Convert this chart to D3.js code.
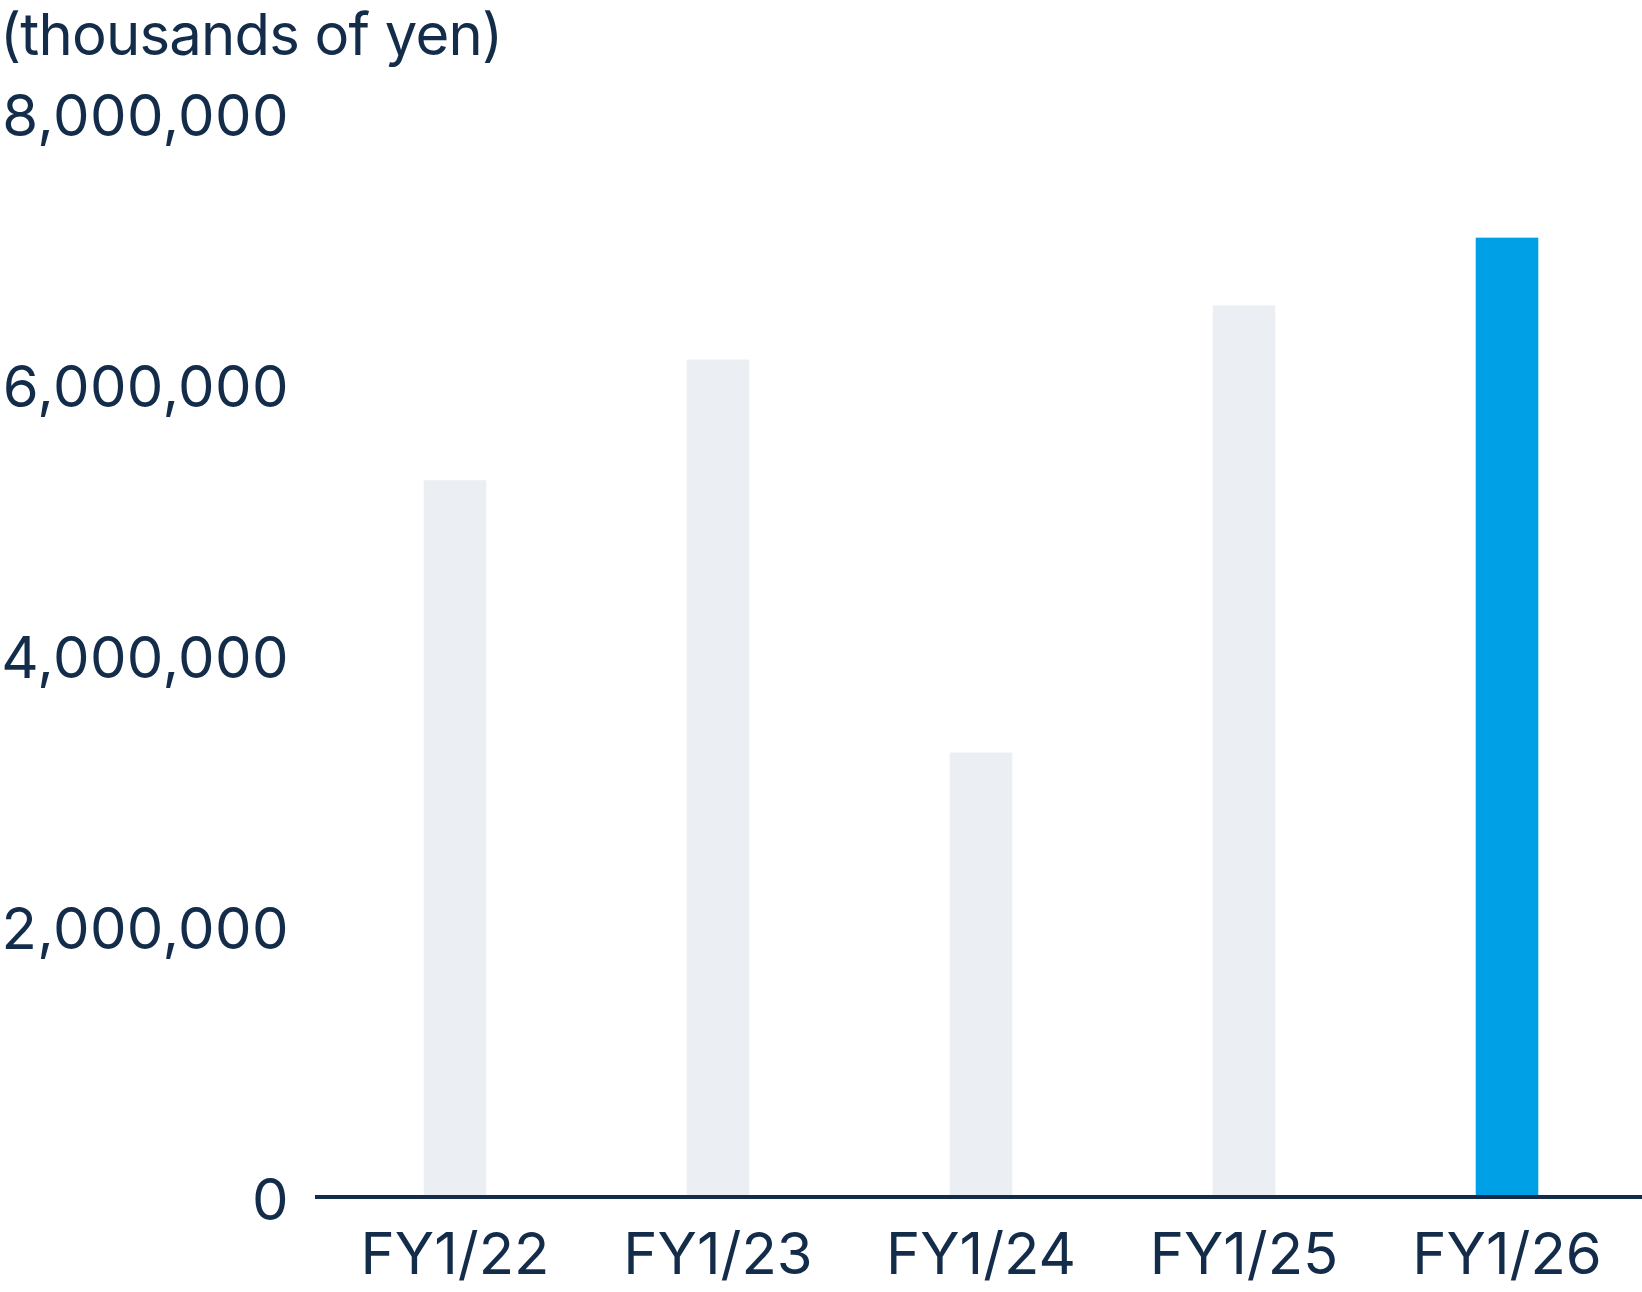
<!DOCTYPE html>
<html>
<head>
<meta charset="utf-8">
<script src="https://cdn.jsdelivr.net/npm/d3@7/dist/d3.min.js"></script>
<style>
  html, body { margin: 0; padding: 0; background: #ffffff; }
  svg { display: block; }
  text { font-family: Inter, "Noto Sans", sans-serif; fill: #132c4a; }
</style>
</head>
<body>
<svg id="chart" width="1642" height="1292"></svg>
<script>
const categories = ["FY1/22", "FY1/23", "FY1/24", "FY1/25", "FY1/26"];
const values = [5290000, 6180000, 3280000, 6580000, 7080000];
const highlight = [false, false, false, false, true];
const yTicks = [0, 2000000, 4000000, 6000000, 8000000];
const unitLabel = "(thousands of yen)";

const W = 1642, H = 1292;
const ink = "#132c4a";
const FS = 58;
const svg = d3.select("#chart");

const y = d3.scaleLinear().domain([0, 8000000]).range([1197, 113]);
const x = d3.scaleBand().domain(categories).range([323.5, 1638.5])
  .paddingInner(0.762).paddingOuter(0.381);

// bars
svg.append("g").selectAll("rect").data(categories).join("rect")
  .attr("x", d => x(d))
  .attr("width", x.bandwidth())
  .attr("y", (d, i) => y(values[i]))
  .attr("height", (d, i) => y(0) - y(values[i]))
  .attr("fill", (d, i) => highlight[i] ? "#00a0e6" : "#ebeef3");

// y axis labels
const yAxis = svg.append("g").attr("transform", "translate(315,0)")
  .call(d3.axisLeft(y).tickValues(yTicks).tickSize(0).tickPadding(26)
    .tickFormat(d3.format(",")));
yAxis.select(".domain").remove();
yAxis.selectAll("text").attr("font-size", FS).attr("dy", "0.39em")
  .attr("letter-spacing", 0.4)
  .style("font-family", "Inter, 'Noto Sans', sans-serif").attr("fill", ink);

// baseline
svg.append("line").attr("x1", 315).attr("x2", W)
  .attr("y1", y(0)).attr("y2", y(0))
  .attr("stroke", ink).attr("stroke-width", 4);

// x axis labels
const xAxis = svg.append("g").attr("transform", `translate(0,${y(0)})`)
  .call(d3.axisBottom(x).tickSize(0).tickPadding(36));
xAxis.select(".domain").remove();
xAxis.selectAll("text").attr("font-size", FS)
  .style("font-family", "Inter, 'Noto Sans', sans-serif").attr("fill", ink);

// unit label
svg.append("text").attr("x", 0).attr("y", 55)
  .attr("font-size", FS).attr("letter-spacing", -0.8).attr("fill", ink).text(unitLabel);
</script>
</body>
</html>
